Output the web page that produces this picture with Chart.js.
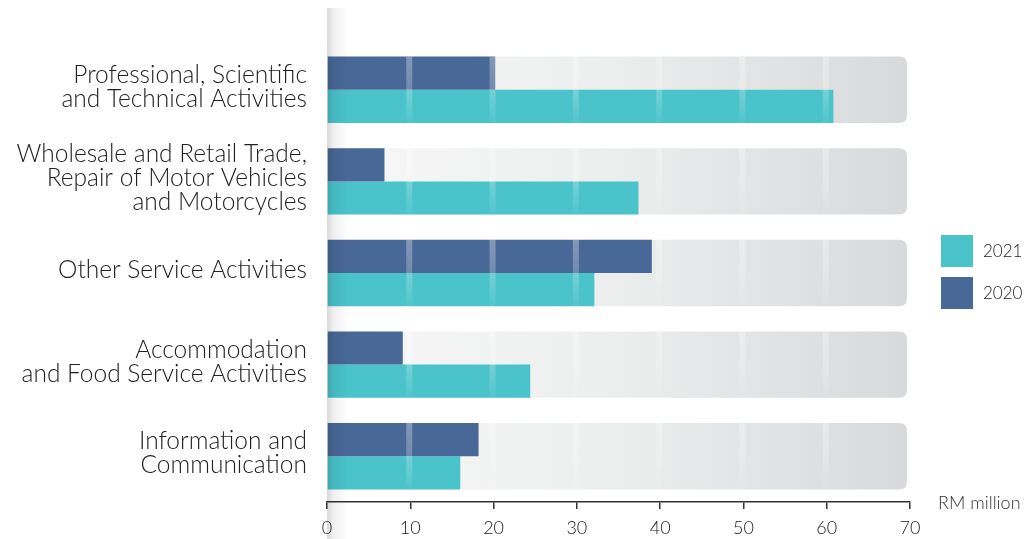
<!DOCTYPE html>
<html><head><meta charset="utf-8">
<script src="https://cdn.jsdelivr.net/npm/chart.js@4"></script>
<style>html,body{margin:0;padding:0;background:#fff;}#wrap{width:1027px;height:539px;position:relative}</style>
</head><body><div id="wrap"><canvas id="c" width="1027" height="539"></canvas></div>
<script>
const categories = [
  ["Professional, Scientific", "and Technical Activities"],
  ["Wholesale and Retail Trade,", "Repair of Motor Vehicles", "and Motorcycles"],
  ["Other Service Activities"],
  ["Accommodation", "and Food Service Activities"],
  ["Information and", "Communication"]
];
const values2020 = [20.2, 6.9, 39.0, 9.1, 18.2];
const values2021 = [60.8, 37.4, 32.1, 24.4, 16.0];
const xTicks = [0, 10, 20, 30, 40, 50, 60, 70];
const seriesNames = ["2020", "2021"];
const axisUnit = "RM million";

const FONT = "Lato, 'Open Sans', sans-serif";
const BLUE = '#486898';
const TEAL = '#4ac3cb';
const TEXT = '#333333';

const panelPlugin = {
  id: 'panels',
  beforeDatasetsDraw(chart) {
    const { ctx, scales: { x } } = chart;
    const m0 = chart.getDatasetMeta(0), m1 = chart.getDatasetMeta(1);
    const x0 = x.getPixelForValue(xTicks[0]);
    const x1 = x.getPixelForValue(xTicks[xTicks.length - 1]) - 3;
    const r = 8;
    ctx.save();
    categories.forEach((c, i) => {
      const b0 = m0.data[i], b1 = m1.data[i];
      const top = b0.y - b0.height / 2, bot = b1.y + b1.height / 2;
      const g = ctx.createLinearGradient(x0, 0, x1, 0);
      g.addColorStop(0, '#f8f8f8');
      g.addColorStop(0.5, '#eceded');
      g.addColorStop(1, '#d8d9db');
      ctx.fillStyle = g;
      ctx.beginPath();
      ctx.moveTo(x0, top);
      ctx.lineTo(x1 - r, top);
      ctx.quadraticCurveTo(x1, top, x1, top + r);
      ctx.lineTo(x1, bot - r);
      ctx.quadraticCurveTo(x1, bot, x1 - r, bot);
      ctx.lineTo(x0, bot);
      ctx.closePath();
      ctx.fill();
    });
    ctx.restore();
  },
  afterDatasetsDraw(chart) {
    const { ctx, scales: { x }, chartArea } = chart;
    const m0 = chart.getDatasetMeta(0), m1 = chart.getDatasetMeta(1);
    ctx.save();
    categories.forEach((c, i) => {
      const b0 = m0.data[i], b1 = m1.data[i];
      const top = b0.y - b0.height / 2, bot = b1.y + b1.height / 2;
      xTicks.slice(1, -1).forEach(v => {
        const px = x.getPixelForValue(v) - 1;
        const g = ctx.createLinearGradient(0, top, 0, bot);
        g.addColorStop(0, 'rgba(255,255,255,0.32)');
        g.addColorStop(0.55, 'rgba(255,255,255,0.22)');
        g.addColorStop(1, 'rgba(255,255,255,0.04)');
        ctx.fillStyle = g;
        ctx.fillRect(px - 3, top, 6, bot - top);
      });
    });
    // left shadow
    const sx = chartArea.left;
    const sg = ctx.createLinearGradient(sx, 0, sx + 22, 0);
    sg.addColorStop(0, 'rgba(0,0,0,0.15)');
    sg.addColorStop(0.3, 'rgba(0,0,0,0.06)');
    sg.addColorStop(1, 'rgba(0,0,0,0)');
    ctx.fillStyle = sg;
    ctx.fillRect(sx, 8, 22, chart.height - 8);
    ctx.restore();
  },
  afterDraw(chart) {
    const { ctx, chartArea } = chart;
    ctx.save();
    ctx.font = `300 18px ${FONT}`;
    ctx.fillStyle = TEXT;
    ctx.textBaseline = 'middle';
    ctx.textAlign = 'left';
    ctx.fillText(axisUnit, chartArea.right + 28, chartArea.bottom + 1);
    ctx.font = `300 17px ${FONT}`;
    const ds = chart.data.datasets.slice().reverse();
    const lx = chartArea.right + 31;
    const ly = 235;
    ds.forEach((d, i) => {
      const y = ly + i * 42;
      ctx.fillStyle = d.backgroundColor;
      ctx.fillRect(lx, y, 32, 32);
      ctx.fillStyle = '#222';
      ctx.fillText(d.label, lx + 42, y + 17);
    });
    ctx.restore();
  }
};

new Chart(document.getElementById('c'), {
  type: 'bar',
  data: {
    labels: categories,
    datasets: [
      { label: seriesNames[0], data: values2020, backgroundColor: BLUE },
      { label: seriesNames[1], data: values2021, backgroundColor: TEAL }
    ]
  },
  options: {
    responsive: false,
    animation: false,
    devicePixelRatio: 1,
    indexAxis: 'y',
    layout: { padding: { top: 44, right: 117, left: 0, bottom: 0 } },
    datasets: { bar: { categoryPercentage: 0.725, barPercentage: 1 } },
    plugins: { legend: { display: false }, tooltip: { enabled: false } },
    scales: {
      x: {
        min: 0, max: 70,
        afterBuildTicks: s => { s.ticks = xTicks.map(v => ({ value: v })); },
        grid: { drawOnChartArea: false, drawTicks: true, tickLength: 7, color: TEXT, lineWidth: 1.5 },
        border: { color: TEXT, width: 1.5 },
        ticks: { font: { family: FONT, size: 18, weight: '300' }, color: '#222', padding: 8, maxRotation: 0, autoSkip: false },
        afterFit: s => { s.height = 37; s.paddingLeft = 0; s.paddingRight = 0; }
      },
      y: {
        grid: { display: false, drawTicks: false },
        border: { display: false },
        ticks: { font: { family: FONT, size: 24.5, weight: '300', lineHeight: 0.98 }, color: '#222', padding: 20, autoSkip: false, labelOffset: -3 },
        afterFit: s => { s.width = 327; s.paddingTop = 0; s.paddingBottom = 0; }
      }
    }
  },
  plugins: [panelPlugin]
});
</script></body></html>
